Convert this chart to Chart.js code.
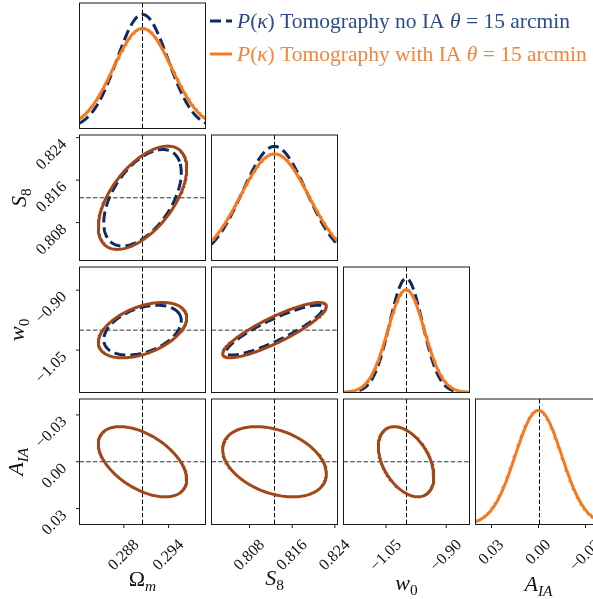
<!DOCTYPE html>
<html>
<head>
<meta charset="utf-8">
<script src="https://cdn.jsdelivr.net/npm/chart.js@4.4.1/dist/chart.umd.min.js"></script>
<style>
  html, body { margin: 0; padding: 0; background: #fff; overflow: hidden; width: 593px; height: 599px; }
  #wrap { position: relative; width: 593px; height: 599px; }
  canvas { position: absolute; left: 0; top: 0; }
</style>
</head>
<body>
<div id="wrap"></div>
<script>
// ---- data ----
var truth   = [0.2905, 0.81268, -1.0, 0.0];
var axisMin = [0.28205, 0.80086, -1.156, -0.0402];
var axisMax = [0.29895, 0.8245, -0.842, 0.0402];
var reversed = [false, false, false, true];
var tickVals = [[0.288, 0.294], [0.808, 0.816, 0.824], [-1.05, -0.90], [0.03, 0.00, -0.03]];
var tickText = [['0.288', '0.294'], ['0.808', '0.816', '0.824'], ['\u22121.05', '\u22120.90'], ['0.03', '0.00', '\u22120.03']];

// 1-sigma widths of each parameter
var sigmaNoIA = [0.00342, 0.00598, 0.041, null];
var sigmaIA   = [0.0039, 0.0064, 0.0455, 0.0148];

// correlation of each pair [row, col]
var pairs   = [[1, 0], [2, 0], [3, 0], [2, 1], [3, 1], [3, 2]];
var rhoIA   = [0.57, 0.45, 0.51, 0.86, 0.35, 0.43];
var rhoNoIA = [0.52, 0.38, null, 0.88, null, null];

var level = 1.52; // 68% contour in 2D

var navy = '#0d2b60', orange = '#f57a1f', brown = '#a1481a';
var navyText = '#2c4b8a', orangeText = '#f3843a';

// ---- layout ----
var CW = 610, CH = 599;
var panelLeft = [79.5, 211.5, 343.5, 475.5];
var panelTop = [3, 135, 267, 399];
var panelW = 126, panelH = 125.5;
var serif = '"Liberation Serif", "Times New Roman", serif';

function gaussPoints(mu, s, lo, hi) {
  var pts = [], n = 160;
  for (var i = 0; i <= n; i++) {
    var x = lo + (hi - lo) * i / n;
    pts.push({x: x, y: Math.exp(-0.5 * Math.pow((x - mu) / s, 2)) / (s * Math.sqrt(2 * Math.PI))});
  }
  return pts;
}

function ellipsePoints(mx, my, sx, sy, rho) {
  var pts = [], n = 180, q = Math.sqrt(1 - rho * rho);
  for (var i = 0; i <= n; i++) {
    var t = 2 * Math.PI * i / n + 0.3;
    pts.push({x: mx + level * sx * Math.cos(t), y: my + level * sy * (rho * Math.cos(t) + q * Math.sin(t))});
  }
  return pts;
}

function drawMath(ctx, parts, x, y, size, align, color) {
  var total = 0;
  parts.forEach(function (p) {
    ctx.font = (p.it ? 'italic ' : '') + (p.sub ? size * 0.7 : size) + 'px ' + serif;
    p.w = ctx.measureText(p.t).width;
    total += p.w;
  });
  var cx = align === 'center' ? x - total / 2 : x;
  ctx.fillStyle = color;
  ctx.textAlign = 'left';
  ctx.textBaseline = 'alphabetic';
  parts.forEach(function (p) {
    ctx.font = (p.it ? 'italic ' : '') + (p.sub ? size * 0.7 : size) + 'px ' + serif;
    ctx.fillText(p.t, cx, y + (p.sub ? size * 0.22 : 0));
    cx += p.w;
  });
}

var axisLabels = [
  [{t: '\u03A9'}, {t: 'm', it: true, sub: true}],
  [{t: 'S', it: true}, {t: '8', sub: true}],
  [{t: 'w', it: true}, {t: '0', sub: true}],
  [{t: 'A', it: true}, {t: 'IA', it: true, sub: true}]
];
var bottomBase = [586, 585, 590, 591];
var leftBase = [0, 26, 24, 23];

var legendRows = [
  {color: navy, text: navyText, dash: [11, 5], label: ' Tomography no IA '},
  {color: orange, text: orangeText, dash: [], label: ' Tomography with IA '}
];

function rotLabel(ctx, text, ax, ay) {
  ctx.save();
  ctx.translate(ax, ay);
  ctx.rotate(-Math.PI / 4);
  ctx.textAlign = 'right';
  ctx.textBaseline = 'middle';
  ctx.fillText(text, 0, 0);
  ctx.restore();
}

var cornerPlugin = {
  id: 'corner',
  beforeDatasetsDraw: function (chart) {
    var o = chart.options.plugins.corner, ctx = chart.ctx, a = chart.chartArea;
    ctx.save();
    ctx.strokeStyle = '#000';
    ctx.lineWidth = 1;
    ctx.setLineDash([4.5, 2.2]);
    var px = Math.round(chart.scales.x.getPixelForValue(truth[o.col])) + 0.5;
    ctx.beginPath(); ctx.moveTo(px, a.top); ctx.lineTo(px, a.bottom); ctx.stroke();
    if (o.row !== o.col) {
      ctx.strokeStyle = '#333';
      var py = chart.scales.y.getPixelForValue(truth[o.row]);
      ctx.beginPath(); ctx.moveTo(a.left, py); ctx.lineTo(a.right, py); ctx.stroke();
    }
    ctx.restore();
  },
  afterDatasetsDraw: function (chart) {
    var o = chart.options.plugins.corner, ctx = chart.ctx, a = chart.chartArea;
    ctx.save();
    ctx.strokeStyle = '#1a1a1a';
    ctx.lineWidth = 1;
    ctx.strokeRect(a.left, a.top, a.right - a.left, a.bottom - a.top);
    ctx.fillStyle = '#111';
    ctx.font = '16px ' + serif;
    if (o.row === 3) {
      tickVals[o.col].forEach(function (v, i) {
        var x = chart.scales.x.getPixelForValue(v);
        ctx.beginPath(); ctx.moveTo(x, a.bottom); ctx.lineTo(x, a.bottom + 3.5); ctx.stroke();
        var w = ctx.measureText(tickText[o.col][i]).width;
        rotLabel(ctx, tickText[o.col][i], x + 0.354 * w, a.bottom + 18);
      });
      drawMath(ctx, axisLabels[o.col], (a.left + a.right) / 2, bottomBase[o.col], 22, 'center', '#111');
    }
    if (o.col === 0 && o.row > 0) {
      ctx.font = '16px ' + serif;
      ctx.fillStyle = '#111';
      tickVals[o.row].forEach(function (v, i) {
        var y = chart.scales.y.getPixelForValue(v);
        ctx.beginPath(); ctx.moveTo(a.left, y); ctx.lineTo(a.left - 3.5, y); ctx.stroke();
        rotLabel(ctx, tickText[o.row][i], a.left - 15, y + 4.5);
      });
      ctx.save();
      ctx.translate(leftBase[o.row], (a.top + a.bottom) / 2);
      ctx.rotate(-Math.PI / 2);
      drawMath(ctx, axisLabels[o.row], 0, 0, 22, 'center', '#111');
      ctx.restore();
    }
    if (o.row === 0 && o.col === 0) {
      legendRows.forEach(function (r, i) {
        var ly = 21 + i * 33;
        ctx.strokeStyle = r.color;
        ctx.lineWidth = 3;
        ctx.setLineDash(r.dash);
        ctx.beginPath(); ctx.moveTo(210, ly); ctx.lineTo(232, ly); ctx.stroke();
        ctx.setLineDash([]);
        drawMath(ctx, [{t: 'P', it: true}, {t: '('}, {t: '\u03BA', it: true}, {t: ')'},
          {t: r.label}, {t: '\u03B8', it: true}, {t: ' = 15 arcmin'}], 237, ly + 7, 21.5, 'left', r.text);
      });
    }
    ctx.restore();
  }
};

function makePanel(row, col, datasets, yMin, yMax, yRev) {
  var c = document.createElement('canvas');
  c.width = CW; c.height = CH;
  document.getElementById('wrap').appendChild(c);
  new Chart(c.getContext('2d'), {
    type: 'scatter',
    data: {datasets: datasets},
    options: {
      responsive: false,
      animation: false,
      events: [],
      layout: {padding: {left: panelLeft[col], top: panelTop[row],
        right: CW - panelLeft[col] - panelW, bottom: CH - panelTop[row] - panelH}},
      scales: {
        x: {type: 'linear', min: axisMin[col], max: axisMax[col], reverse: reversed[col], display: false},
        y: {type: 'linear', min: yMin, max: yMax, reverse: yRev, display: false}
      },
      plugins: {legend: {display: false}, tooltip: {enabled: false}, corner: {row: row, col: col}}
    },
    plugins: [cornerPlugin]
  });
}

function lineSet(pts, color, dash, order) {
  return {data: pts, showLine: true, pointRadius: 0, borderColor: color, borderWidth: 3,
    borderDash: dash, borderCapStyle: dash.length ? 'butt' : 'round', borderJoinStyle: 'round',
    fill: false, tension: 0, clip: 0, order: order};
}

// diagonal: 1D marginals
for (var k = 0; k < 4; k++) {
  var sets = [lineSet(gaussPoints(truth[k], sigmaIA[k], axisMin[k], axisMax[k]), orange, [], 0)];
  var peak = 1 / (sigmaIA[k] * Math.sqrt(2 * Math.PI));
  if (sigmaNoIA[k]) {
    sets.push(lineSet(gaussPoints(truth[k], sigmaNoIA[k], axisMin[k], axisMax[k]), navy, [11, 5], 1));
    peak = Math.max(peak, 1 / (sigmaNoIA[k] * Math.sqrt(2 * Math.PI)));
  }
  makePanel(k, k, sets, 0, peak * 1.1, false);
}

// off-diagonal: 2D contours
pairs.forEach(function (p, i) {
  var r = p[0], c = p[1];
  var sets = [lineSet(ellipsePoints(truth[c], truth[r], sigmaIA[c], sigmaIA[r], rhoIA[i]), brown, [], 0)];
  if (rhoNoIA[i] !== null) {
    sets.push(lineSet(ellipsePoints(truth[c], truth[r], sigmaNoIA[c], sigmaNoIA[r], rhoNoIA[i]), navy, [11, 5], 1));
  }
  makePanel(r, c, sets, axisMin[r], axisMax[r], reversed[r]);
});
</script>
</body>
</html>
